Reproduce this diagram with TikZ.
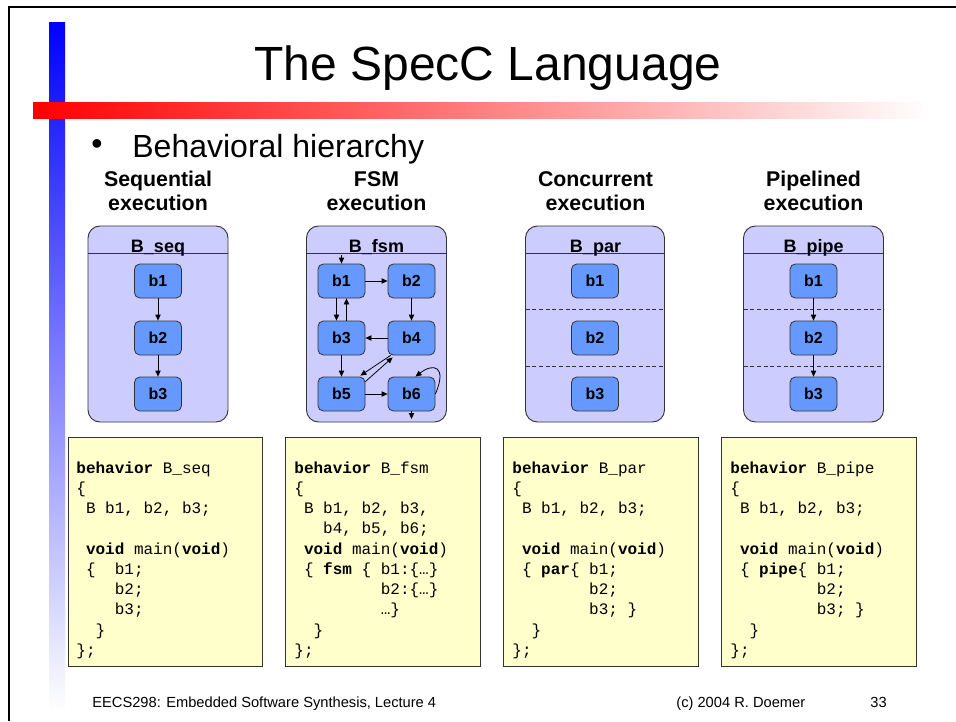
\documentclass[tikz,border=0pt]{standalone}
\usepackage{fontspec}
\setmainfont{Liberation Sans}
\setmonofont{Liberation Mono}
\usetikzlibrary{arrows.meta,positioning,calc}
\definecolor{boxlilac}{HTML}{CCCCFF}
\definecolor{blkblue}{HTML}{6699FF}
\definecolor{codeyellow}{HTML}{FFFFCC}
\definecolor{edgegrey}{HTML}{333333}
\newcommand{\kw}[1]{\textbf{#1}}
\newcommand{\ind}{\mbox{}}
\tikzset{
  outerbox/.style={draw=edgegrey,line width=0.7pt,fill=boxlilac,rounded corners=9pt},
  blk/.style={draw=edgegrey,line width=0.6pt,fill=blkblue,rounded corners=4pt,
    minimum width=35.25pt,minimum height=25.5pt,inner sep=0pt,
    font=\bfseries\fontsize{12}{14}\selectfont},
  boxlabel/.style={anchor=base,inner sep=0pt,font=\bfseries\fontsize{13.5}{16}\selectfont},
  colhead/.style={align=center,inner sep=0pt,font=\bfseries\fontsize{16}{18}\selectfont},
  codebox/.style={draw=edgegrey,line width=0.7pt,fill=codeyellow},
  codetext/.style={anchor=north west,align=left,inner sep=0pt,
    font=\ttfamily\fontsize{12}{15.2}\selectfont},
  foot/.style={anchor=base west,inner sep=0pt,font=\fontsize{11}{13}\selectfont},
  part/.style={edgegrey,line width=0.6pt,dash pattern=on 3pt off 2pt},
}

\begin{document}
\begin{tikzpicture}[x=0.75pt,y=-0.75pt,>={Triangle[length=4.5pt,width=4pt]},line width=0.6pt]
  \useasboundingbox (0,0) rectangle (956,721);
  % slide frame and bars
  \draw[line width=1.1pt] (9,721) -- (9,7) -- (956,7);
  \shade[top color=blue,middle color=blue!35,bottom color=white] (49,22) rectangle (65,712);
  \shade[left color=red,middle color=red!35,right color=white] (33,102) rectangle (930,118);
  \node[anchor=base,inner sep=0pt,font=\fontsize{36}{40}\selectfont] (title) at (488,80) {The SpecC Language};
  \node[inner sep=0pt,font=\fontsize{24}{28}\selectfont] (dot) at (97,147) {•};
  \node[anchor=base west,inner sep=0pt,font=\fontsize{24}{28}\selectfont] (topic) at (132,157) {Behavioral hierarchy};

  % sequential
  \begin{scope}[shift={(88,0)}]
    \node[colhead] (seqhead) at (70,191) {Sequential\\execution};
    \draw[outerbox] (0,226) rectangle (140,422);
    \draw[edgegrey] (0,253) -- (140,253);
    \node[boxlabel] (seqname) at (70,252) {B\_seq};
    \node[blk] (seq1) at (70,281) {b1};
    \node[blk] (seq2) at (70,338) {b2};
    \node[blk] (seq3) at (70,394) {b3};
    \draw[->] (seq1) -- (seq2);
    \draw[->] (seq2) -- (seq3);
    \draw[codebox] (-20,437) rectangle (174,666);
    \node[codetext] (seqcode) at (-12,461) {\kw{behavior} B\_seq\\
      \{\\
      \ind~B b1, b2, b3;\\
      \ind\\
      \ind~\kw{void} main(\kw{void})\\
      \ind~\{~~b1;\\
      \ind~~~~b2;\\
      \ind~~~~b3;\\
      \ind~~\}\\
      \};};
  \end{scope}

  % fsm
  \begin{scope}[shift={(306.5,0)}]
    \node[colhead] (fsmhead) at (70,191) {FSM\\execution};
    \draw[outerbox] (0,226) rectangle (140,422);
    \draw[edgegrey] (0,253) -- (140,253);
    \node[boxlabel] (fsmname) at (70,252) {B\_fsm};
    \node[blk] (fsm1) at (35,281) {b1};
    \node[blk] (fsm2) at (105,281) {b2};
    \node[blk] (fsm3) at (35,338) {b3};
    \node[blk] (fsm4) at (105,338) {b4};
    \node[blk] (fsm5) at (35,394) {b5};
    \node[blk] (fsm6) at (105,394) {b6};
    \coordinate (fsmin) at (35,255);
    \coordinate (fsmout) at (105,419);
    \draw[->] (fsmin) -- (fsm1);
    \draw[->] (fsm1) -- (fsm2);
    \draw[->] ([xshift=-3.75pt]fsm1.south) -- ([xshift=-3.75pt]fsm3.north);
    \draw[->] ([xshift=3.75pt]fsm3.north) -- ([xshift=3.75pt]fsm1.south);
    \draw[->] (fsm2) -- (fsm4);
    \draw[->] (fsm4) -- (fsm3);
    \draw[->] (fsm3) -- (fsm5);
    \draw[->] ($(fsm4.south west)+(3,0)$) -- ($(fsm5.north east)+(-5,-1)$);
    \draw[->] ($(fsm5.north east)+(0,5)$) -- ($(fsm4.south west)+(5,2)$);
    \draw[->] (fsm5) -- (fsm6);
    \draw[->] (fsm6.east) .. controls +(12,-28) and +(18,-14) .. ($(fsm6.north)+(4,0)$);
    \draw[->] (fsm6) -- (fsmout);
    \draw[codebox] (-21.5,437) rectangle (173.5,666);
    \node[codetext] (fsmcode) at (-12.5,461) {\kw{behavior} B\_fsm\\
      \{\\
      \ind~B b1, b2, b3,\\
      \ind~~~b4, b5, b6;\\
      \ind~\kw{void} main(\kw{void})\\
      \ind~\{ \kw{fsm} \{ b1:\{…\}\\
      \ind~~~~~~~~~b2:\{…\}\\
      \ind~~~~~~~~~…\}\\
      \ind~~\}\\
      \};};
  \end{scope}

  % concurrent
  \begin{scope}[shift={(525.5,0)}]
    \node[colhead] (parhead) at (70,191) {Concurrent\\execution};
    \draw[outerbox] (0,226) rectangle (139,422);
    \draw[edgegrey] (0,253) -- (139,253);
    \node[boxlabel] (parname) at (70,252) {B\_par};
    \node[blk] (par1) at (69.5,281) {b1};
    \node[blk] (par2) at (69.5,338) {b2};
    \node[blk] (par3) at (69.5,394) {b3};
    \draw[part] (0,309) -- (139,309);
    \draw[part] (0,366) -- (139,366);
    \draw[codebox] (-22.5,437) rectangle (172.5,666);
    \node[codetext] (parcode) at (-13.5,461) {\kw{behavior} B\_par\\
      \{\\
      \ind~B b1, b2, b3;\\
      \ind\\
      \ind~\kw{void} main(\kw{void})\\
      \ind~\{ \kw{par}\{ b1;\\
      \ind~~~~~~~~b2;\\
      \ind~~~~~~~~b3; \}\\
      \ind~~\}\\
      \};};
  \end{scope}

  % pipelined
  \begin{scope}[shift={(743.5,0)}]
    \node[colhead] (pipehead) at (70,191) {Pipelined\\execution};
    \draw[outerbox] (0,226) rectangle (140,422);
    \draw[edgegrey] (0,253) -- (140,253);
    \node[boxlabel] (pipename) at (70,252) {B\_pipe};
    \node[blk] (pipe1) at (70,281) {b1};
    \node[blk] (pipe2) at (70,338) {b2};
    \node[blk] (pipe3) at (70,394) {b3};
    \draw[part] (0,309) -- (140,309);
    \draw[part] (0,366) -- (140,366);
    \draw[->] (pipe1) -- (pipe2);
    \draw[->] (pipe2) -- (pipe3);
    \draw[codebox] (-22.5,437) rectangle (172.5,666);
    \node[codetext] (pipecode) at (-13.5,461) {\kw{behavior} B\_pipe\\
      \{\\
      \ind~B b1, b2, b3;\\
      \ind\\
      \ind~\kw{void} main(\kw{void})\\
      \ind~\{ \kw{pipe}\{ b1;\\
      \ind~~~~~~~~~b2;\\
      \ind~~~~~~~~~b3; \}\\
      \ind~~\}\\
      \};};
  \end{scope}

  % footer
  \node[foot] (course) at (92,707) {EECS298: Embedded Software Synthesis, Lecture 4};
  \node[foot] (author) at (676,707) {(c) 2004 R. Doemer};
  \node[foot] (page) at (870,707) {33};
\end{tikzpicture}
\end{document}
